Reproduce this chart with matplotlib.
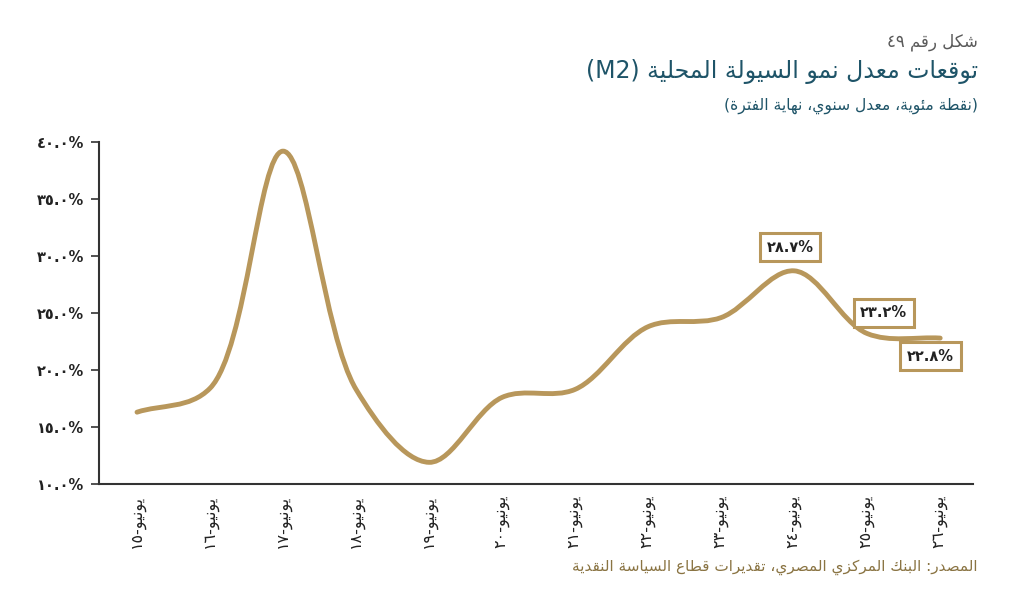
import numpy as np
import matplotlib
matplotlib.use('Agg')
import matplotlib.pyplot as plt
from matplotlib.path import Path
from matplotlib.patches import PathPatch

# ---------------- data ----------------
years = ['١٥', '١٦', '١٧', '١٨', '١٩', '٢٠', '٢١', '٢٢', '٢٣', '٢٤', '٢٥', '٢٦']
categories = ['يونيو-' + y for y in years]
m2_growth = [16.3, 18.4, 39.2, 18.3, 11.9, 17.6, 18.3, 23.8, 24.6, 28.7, 23.2, 22.8]
ytick_values = [10, 15, 20, 25, 30, 35, 40]
ytick_labels = ['١٠.٠%', '١٥.٠%', '٢٠.٠%', '٢٥.٠%', '٣٠.٠%', '٣٥.٠%', '٤٠.٠%']
callout_index = [9, 10, 11]
callout_labels = ['٢٨.٧%', '٢٣.٢%', '٢٢.٨%']

fig_label = 'شكل رقم ٤٩'
title = 'توقعات معدل نمو السيولة المحلية (M2)'
subtitle = '(نقطة مئوية، معدل سنوي، نهاية الفترة)'
source = 'المصدر: البنك المركزي المصري، تقديرات قطاع السياسة النقدية'

# ---------------- Arabic shaping + simple bidi ----------------
# (isolated, final, initial, medial)
FORMS = {
    '\u0621': ('\uFE80', None, None, None),
    '\u0622': ('\uFE81', '\uFE82', None, None),
    '\u0623': ('\uFE83', '\uFE84', None, None),
    '\u0624': ('\uFE85', '\uFE86', None, None),
    '\u0625': ('\uFE87', '\uFE88', None, None),
    '\u0626': ('\uFE89', '\uFE8A', '\uFE8B', '\uFE8C'),
    '\u0627': ('\uFE8D', '\uFE8E', None, None),
    '\u0628': ('\uFE8F', '\uFE90', '\uFE91', '\uFE92'),
    '\u0629': ('\uFE93', '\uFE94', None, None),
    '\u062A': ('\uFE95', '\uFE96', '\uFE97', '\uFE98'),
    '\u062B': ('\uFE99', '\uFE9A', '\uFE9B', '\uFE9C'),
    '\u062C': ('\uFE9D', '\uFE9E', '\uFE9F', '\uFEA0'),
    '\u062D': ('\uFEA1', '\uFEA2', '\uFEA3', '\uFEA4'),
    '\u062E': ('\uFEA5', '\uFEA6', '\uFEA7', '\uFEA8'),
    '\u062F': ('\uFEA9', '\uFEAA', None, None),
    '\u0630': ('\uFEAB', '\uFEAC', None, None),
    '\u0631': ('\uFEAD', '\uFEAE', None, None),
    '\u0632': ('\uFEAF', '\uFEB0', None, None),
    '\u0633': ('\uFEB1', '\uFEB2', '\uFEB3', '\uFEB4'),
    '\u0634': ('\uFEB5', '\uFEB6', '\uFEB7', '\uFEB8'),
    '\u0635': ('\uFEB9', '\uFEBA', '\uFEBB', '\uFEBC'),
    '\u0636': ('\uFEBD', '\uFEBE', '\uFEBF', '\uFEC0'),
    '\u0637': ('\uFEC1', '\uFEC2', '\uFEC3', '\uFEC4'),
    '\u0638': ('\uFEC5', '\uFEC6', '\uFEC7', '\uFEC8'),
    '\u0639': ('\uFEC9', '\uFECA', '\uFECB', '\uFECC'),
    '\u063A': ('\uFECD', '\uFECE', '\uFECF', '\uFED0'),
    '\u0641': ('\uFED1', '\uFED2', '\uFED3', '\uFED4'),
    '\u0642': ('\uFED5', '\uFED6', '\uFED7', '\uFED8'),
    '\u0643': ('\uFED9', '\uFEDA', '\uFEDB', '\uFEDC'),
    '\u0644': ('\uFEDD', '\uFEDE', '\uFEDF', '\uFEE0'),
    '\u0645': ('\uFEE1', '\uFEE2', '\uFEE3', '\uFEE4'),
    '\u0646': ('\uFEE5', '\uFEE6', '\uFEE7', '\uFEE8'),
    '\u0647': ('\uFEE9', '\uFEEA', '\uFEEB', '\uFEEC'),
    '\u0648': ('\uFEED', '\uFEEE', None, None),
    '\u0649': ('\uFEEF', '\uFEF0', None, None),
    '\u064A': ('\uFEF1', '\uFEF2', '\uFEF3', '\uFEF4'),
}
LAM_ALEF = {'\u0622': ('\uFEF5', '\uFEF6'), '\u0623': ('\uFEF7', '\uFEF8'),
            '\u0625': ('\uFEF9', '\uFEFA'), '\u0627': ('\uFEFB', '\uFEFC')}
MIRROR = {'(': ')', ')': '(', '[': ']', ']': '[', '<': '>', '>': '<'}


def _dual(c):
    return c in FORMS and FORMS[c][2] is not None


def shape(s):
    out = []
    i = 0
    n = len(s)
    while i < n:
        c = s[i]
        if c not in FORMS:
            out.append(c)
            i += 1
            continue
        prev_joins = i > 0 and _dual(s[i - 1])
        if c == '\u0644' and i + 1 < n and s[i + 1] in LAM_ALEF:
            iso, fin = LAM_ALEF[s[i + 1]]
            out.append(fin if prev_joins else iso)
            i += 2
            continue
        f = FORMS[c]
        next_joins = _dual(c) and i + 1 < n and s[i + 1] in FORMS
        if prev_joins and next_joins:
            out.append(f[3])
        elif prev_joins:
            out.append(f[1])
        elif next_joins:
            out.append(f[2])
        else:
            out.append(f[0])
        i += 1
    return ''.join(out)


def _cls(c):
    if c.isascii() and c.isalnum():
        return 'L'
    if '\u0660' <= c <= '\u0669':
        return 'L'
    if c in ' .,:;-()%/\u060C':
        return 'N'
    return 'R'


def visual(s):
    s = shape(s)
    cls = [_cls(c) for c in s]
    n = len(s)
    res = []
    for i in range(n):
        if cls[i] != 'N':
            res.append(cls[i])
            continue
        lft = next((cls[j] for j in range(i - 1, -1, -1) if cls[j] != 'N'), 'R')
        rgt = next((cls[j] for j in range(i + 1, n) if cls[j] != 'N'), 'R')
        res.append('L' if (lft == 'L' and rgt == 'L') else 'R')
    runs = []
    for c, d in zip(s, res):
        if runs and runs[-1][0] == d:
            runs[-1][1].append(c)
        else:
            runs.append([d, [c]])
    parts = []
    for d, chars in reversed(runs):
        if d == 'R':
            parts.append(''.join(MIRROR.get(c, c) for c in reversed(chars)))
        else:
            parts.append(''.join(chars))
    return ''.join(parts)


# ---------------- style ----------------
plt.rcParams['font.family'] = ['DejaVu Sans']
gold = '#B8975B'
teal = '#1E5468'
dark = '#222222'

fig = plt.figure(figsize=(10.19, 5.94), dpi=100)
fig.patch.set_facecolor('white')
ax = fig.add_axes([0.0972, 0.1852, 0.9549 - 0.0972, 0.7609 - 0.1852])
ax.set_xlim(-0.52, 11.45)
ax.set_ylim(10, 40)

x = np.arange(len(m2_growth), dtype=float)
y = np.array(m2_growth, dtype=float)

# smoothed line: centripetal Catmull-Rom computed in display space -> cubic Bezier
D = ax.transData.transform(np.column_stack([x, y]))
Dext = np.vstack([2 * D[0] - D[1], D, 2 * D[-1] - D[-2]])
verts = [D[0]]
codes = [Path.MOVETO]
alpha = 0.5
for i in range(len(D) - 1):
    p0, p1, p2, p3 = Dext[i], Dext[i + 1], Dext[i + 2], Dext[i + 3]
    d0 = max(np.linalg.norm(p1 - p0) ** alpha, 1e-6)
    d1 = max(np.linalg.norm(p2 - p1) ** alpha, 1e-6)
    d2 = max(np.linalg.norm(p3 - p2) ** alpha, 1e-6)
    m1 = ((p1 - p0) / d0 - (p2 - p0) / (d0 + d1) + (p2 - p1) / d1) * d1
    m2 = ((p2 - p1) / d1 - (p3 - p1) / (d1 + d2) + (p3 - p2) / d2) * d1
    verts += [p1 + m1 / 3.0, p2 - m2 / 3.0, p2]
    codes += [Path.CURVE4] * 3
verts_data = ax.transData.inverted().transform(np.array(verts))
ax.add_patch(PathPatch(Path(verts_data, codes), facecolor='none', edgecolor=gold,
                       lw=3.5, capstyle='round', joinstyle='round', zorder=3))

ax.set_yticks(ytick_values)
ax.set_yticklabels(ytick_labels, fontsize=10.5, fontweight='bold', color=dark)
ax.set_xticks(x)
ax.set_xticklabels([visual(c) for c in categories], rotation=90, fontsize=11.5,
                   color=dark, va='top', ha='center')
ax.tick_params(axis='x', length=0, pad=8)
ax.tick_params(axis='y', length=6, width=1.2, color='#333333', pad=5, direction='out')
for side in ['top', 'right']:
    ax.spines[side].set_visible(False)
for side in ['left', 'bottom']:
    ax.spines[side].set_color('#333333')
    ax.spines[side].set_linewidth(1.5)

# callouts
offsets = [(-3, 17), (12, 15), (-7, -13)]
for idx, lab, off in zip(callout_index, callout_labels, offsets):
    ax.annotate(lab, xy=(x[idx], y[idx]), xytext=off, textcoords='offset points',
                ha='center', va='center', fontsize=10.5, fontweight='bold', color=dark,
                bbox=dict(boxstyle='square,pad=0.45', fc='white', ec=gold, lw=2.2),
                zorder=5)

# titles
xr = 978 / 1019
fig.text(xr, 1 - 42 / 594, visual(fig_label), ha='right', va='center',
         fontsize=12, color='#5A5A5A')
fig.text(xr, 1 - 72 / 594, visual(title), ha='right', va='center',
         fontsize=17, color=teal)
fig.text(xr, 1 - 106 / 594, visual(subtitle), ha='right', va='center',
         fontsize=11.2, color=teal)
fig.text(xr, 1 - 567 / 594, visual(source), ha='right', va='center',
         fontsize=11, color='#8A7443')

fig.savefig('out.png', dpi=100, facecolor='white')
